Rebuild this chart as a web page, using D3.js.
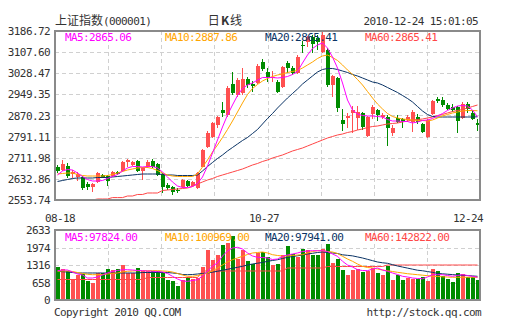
<!DOCTYPE html>
<html><head><meta charset="utf-8">
<script src="https://cdn.jsdelivr.net/npm/d3@7"></script>
<style>body{margin:0;background:#fff}svg{display:block}</style>
</head><body><svg id="c" width="505" height="330"></svg>
<script>
const open = [2677.3,2666.1,2681.1,2651.1,2639.9,2639.9,2613.7,2602.4,2621.2,2647.4,
 2643.6,2643.6,2658.6,2662.4,2696.1,2684.8,2699.8,2662.4,2677.3,2699.8,
 2688.6,2651.1,2609.9,2602.4,2591.2,2602.4,2624.9,2606.2,2598.7,2679.2,
 2752.3,2789.7,2834.7,2890.8,2872.1,2988.2,2947.0,2954.5,3006.9,2988.2,
 2992.0,3070.6,3033.2,3010.7,2995.7,2977.0,3066.9,3048.1,3029.4,3136.1,
 3145.5,3164.2,3160.5,3108.1,3115.6,2984.5,3010.7,2853.4,2859.0,2879.6,
 2862.7,2879.6,2793.5,2875.9,2890.8,2864.6,2864.6,2804.7,2860.9,2857.1,
 2853.4,2845.9,2864.6,2838.4,2789.7,2875.9,2932.0,2928.3,2909.6,2902.1,
 2902.1,2860.9,2913.3,2879.6,2842.1];
const high = [2684.8,2703.6,2692.3,2666.1,2658.6,2643.6,2621.2,2617.4,2658.6,2651.1,
 2647.4,2662.4,2662.4,2699.8,2707.3,2699.8,2703.6,2677.3,2703.6,2707.3,
 2692.3,2654.9,2617.4,2606.2,2598.7,2632.4,2628.7,2624.9,2658.6,2744.8,
 2812.2,2845.9,2868.4,2920.8,2980.7,3033.2,3010.7,3048.1,3014.4,2999.5,
 3063.1,3081.9,3048.1,3036.9,3003.2,3055.6,3074.4,3055.6,3096.8,3149.3,
 3168.0,3171.7,3171.7,3186.7,3123.0,3021.9,3014.4,2894.6,2879.6,2905.8,
 2905.8,2883.3,2868.4,2909.6,2894.6,2879.6,2872.1,2834.7,2872.1,2860.9,
 2872.1,2890.8,2875.9,2842.1,2857.1,2928.3,2939.5,2939.5,2917.1,2913.3,
 2905.8,2920.8,2920.8,2890.8,2857.1];
const low = [2654.9,2662.4,2636.1,2636.1,2624.9,2591.2,2591.2,2583.7,2617.4,2636.1,
 2606.2,2639.9,2647.4,2658.6,2677.3,2681.1,2658.6,2628.7,2673.6,2673.6,
 2643.6,2580.0,2591.2,2572.5,2580.0,2598.7,2602.4,2602.4,2594.9,2677.3,
 2748.5,2786.0,2823.4,2864.6,2864.6,2947.0,2939.5,2947.0,2973.2,2958.3,
 2988.2,3036.9,2995.7,2995.7,2954.5,2973.2,3029.4,3021.9,3025.7,3104.3,
 3126.8,3104.3,3115.6,3104.3,2977.0,2939.5,2883.3,2812.2,2823.4,2804.7,
 2815.9,2815.9,2789.7,2857.1,2849.6,2857.1,2756.0,2793.5,2842.1,2823.4,
 2845.9,2808.4,2838.4,2804.7,2786.0,2872.1,2917.1,2902.1,2890.8,2883.3,
 2804.7,2857.1,2879.6,2853.4,2812.2];
const close = [2662.4,2688.6,2643.6,2658.6,2651.1,2598.7,2602.4,2613.7,2654.9,2639.9,
 2624.9,2658.6,2651.1,2696.1,2701.7,2696.1,2662.4,2673.6,2696.1,2677.3,
 2647.4,2602.4,2598.7,2583.7,2587.5,2628.7,2606.2,2621.2,2654.9,2741.0,
 2804.7,2842.1,2864.6,2879.6,2973.2,2954.5,3003.2,3006.9,2984.5,2980.7,
 3055.6,3044.4,3014.4,3016.3,2958.3,3051.9,3048.1,3029.4,3089.3,3130.5,
 3164.2,3138.0,3145.5,3171.7,2984.5,3018.2,2898.3,2838.4,2870.2,2890.8,
 2885.2,2827.2,2864.6,2902.1,2872.1,2872.1,2823.4,2823.4,2847.7,2845.9,
 2864.6,2883.3,2845.9,2808.4,2853.4,2924.5,2924.5,2909.6,2894.6,2890.8,
 2849.6,2913.3,2894.6,2857.1,2836.5];
const ma5 = [2647.4,2662.4,2668.0,2666.1,2654.9,2641.8,2630.5,2624.9,2624.9,2626.8,
 2634.3,2641.8,2649.3,2662.4,2673.6,2679.2,2679.2,2677.3,2679.2,2679.2,
 2673.6,2658.6,2639.9,2621.2,2606.2,2600.6,2600.6,2604.3,2615.6,2639.9,
 2681.1,2729.8,2778.5,2827.2,2872.1,2909.6,2945.2,2971.4,2984.5,2992.0,
 3003.2,3012.6,3012.6,3012.6,3010.7,3012.6,3016.3,3023.8,3035.1,3066.9,
 3096.8,3121.1,3134.3,3141.8,3123.0,3089.3,3048.1,2992.0,2928.3,2890.8,
 2875.9,2870.2,2868.4,2868.4,2866.5,2864.6,2855.3,2849.6,2849.6,2847.7,
 2847.7,2842.1,2845.9,2851.5,2853.4,2859.0,2868.4,2877.7,2889.0,2898.3,
 2905.8,2907.7,2905.8,2890.8,2865.06];
const ma10 = [2651.1,2653.0,2654.9,2654.9,2649.3,2645.5,2643.6,2643.6,2643.6,2643.6,
 2645.5,2649.3,2654.9,2660.5,2666.1,2669.9,2673.6,2675.5,2675.5,2671.7,
 2664.2,2654.9,2647.4,2643.6,2641.8,2641.8,2641.8,2641.8,2651.1,2677.3,
 2703.6,2733.5,2759.7,2787.8,2817.8,2849.6,2883.3,2917.1,2948.9,2971.4,
 2986.4,2999.5,3008.8,3016.3,3021.9,3025.7,3031.3,3035.1,3038.8,3048.1,
 3059.4,3070.6,3083.7,3093.1,3096.8,3087.5,3076.3,3059.4,3040.7,3023.8,
 3005.1,2984.5,2960.1,2935.8,2913.3,2894.6,2877.7,2866.5,2860.9,2857.1,
 2855.3,2853.4,2851.5,2851.5,2849.6,2853.4,2860.9,2868.4,2874.0,2879.6,
 2883.3,2887.1,2889.0,2889.0,2887.86];
const ma20 = [2623.0,2626.8,2630.5,2634.3,2636.1,2636.1,2636.1,2636.1,2638.0,2638.0,
 2638.0,2639.9,2641.8,2643.6,2645.5,2647.4,2649.3,2651.1,2651.1,2651.1,
 2651.1,2649.3,2647.4,2647.4,2645.5,2645.5,2645.5,2645.5,2647.4,2662.4,
 2679.2,2694.2,2709.2,2722.3,2737.3,2750.4,2763.5,2776.6,2787.8,2802.8,
 2817.8,2838.4,2859.0,2877.7,2898.3,2917.1,2935.8,2952.6,2969.5,2988.2,
 3003.2,3018.2,3033.2,3042.5,3046.3,3046.3,3042.5,3036.9,3031.3,3023.8,
 3018.2,3010.7,3003.2,2995.7,2992.0,2984.5,2975.1,2965.7,2956.4,2945.2,
 2933.9,2920.8,2903.9,2887.1,2874.0,2866.5,2864.6,2864.6,2864.6,2864.6,
 2864.6,2864.6,2864.6,2864.6,2865.41];
const ma60 = [2553.7,2553.7,2553.7,2553.7,2553.7,2553.7,2553.7,2553.7,2557.5,2557.5,
 2557.5,2562.8,2562.8,2562.8,2568.7,2568.7,2574.4,2574.4,2580.0,2580.0,
 2580.0,2589.3,2591.2,2593.1,2594.9,2596.8,2598.7,2604.3,2613.7,2621.2,
 2628.7,2634.3,2641.8,2647.4,2653.0,2658.6,2664.2,2669.9,2677.3,2684.8,
 2690.5,2698.0,2703.6,2711.1,2716.7,2722.3,2729.8,2737.3,2742.9,2748.5,
 2756.0,2763.5,2771.0,2778.5,2786.0,2791.6,2797.2,2800.9,2806.6,2810.3,
 2815.9,2819.7,2825.3,2829.0,2830.9,2834.7,2838.4,2840.3,2842.1,2845.9,
 2849.6,2853.4,2855.3,2857.1,2860.9,2864.6,2870.2,2874.0,2879.6,2885.2,
 2889.0,2892.7,2898.3,2903.9,2909.6];
const volume = [1241,1166,1090,790,952,978,727,651,1016,1016,
 1166,1128,1166,1316,1016,1016,1203,1090,1090,1090,
 1090,1053,752,727,539,752,865,790,827,1241,
 1880,1504,1692,2068,2143,2407,1541,1880,1466,1354,
 1754,1792,1604,1316,1354,1692,2031,1730,1604,1918,
 1880,1692,1692,1918,2106,1391,1541,1128,940,1128,
 1166,1053,1090,1203,1016,940,1279,752,940,752,
 827,790,790,865,715,1166,1090,903,790,677,
 1016,978,865,865,752];
const vma5 = [1102,1128,1128,1053,978,940,827,827,865,940,
 1016,1080,1110,1140,1140,1128,1110,1102,1091,1080,
 1072,1053,997,891,790,715,703,733,764,903,
 1080,1279,1392,1655,1843,1956,1982,1918,1768,1655,
 1606,1599,1580,1523,1542,1644,1693,1730,1768,1824,
 1843,1854,1854,1854,1824,1730,1644,1456,1316,1241,
 1140,1110,1102,1166,1204,1128,1080,1016,959,891,
 865,827,809,801,865,952,952,952,922,891,
 922,952,922,891,854];
const vma10 = [1080,1091,1091,1072,1034,997,967,952,952,959,
 978,997,1016,1053,1080,1091,1102,1102,1102,1102,
 1102,1091,1080,1053,997,940,891,891,922,952,
 1016,1091,1204,1316,1429,1516,1580,1644,1711,1768,
 1787,1805,1768,1704,1674,1655,1655,1674,1693,1704,
 1768,1824,1854,1854,1824,1805,1749,1644,1542,1456,
 1354,1268,1222,1204,1166,1128,1102,1072,1042,1016,
 989,970,952,933,914,895,884,873,865,854,
 854,854,854,854,854];
const vma20 = [1080,1064,1053,1034,1016,1016,1016,1016,1016,1016,
 1016,1016,1016,1016,1016,1016,1016,1034,1034,1034,
 1034,1034,1034,1016,997,959,952,959,978,997,
 1016,1046,1080,1117,1155,1192,1230,1268,1316,1354,
 1384,1411,1456,1486,1516,1561,1606,1636,1663,1693,
 1730,1757,1787,1805,1787,1768,1749,1700,1680,1660,
 1620,1580,1530,1480,1430,1400,1380,1330,1280,1240,
 1200,1160,1120,1100,1070,1040,1000,985,970,955,
 940,930,918,905,891];
const vma60 = [771,771,771,771,771,771,771,771,771,771,
 771,771,771,771,771,771,771,771,846,846,
 846,846,846,846,846,846,846,846,846,1091,
 1091,1091,1091,1091,1091,1091,1091,1091,1091,1091,
 1091,1091,1091,1091,1091,1091,1204,1204,1204,1204,
 1204,1204,1204,1204,1260,1260,1260,1260,1260,1260,
 1260,1260,1260,1260,1260,1260,1316,1316,1316,1316,
 1316,1316,1316,1316,1316,1316,1316,1316,1316,1316,
 1316,1316,1316,1316,1316];
const priceTicks = [2553.74,2632.86,2711.98,2791.11,2870.23,2949.35,3028.47,3107.60,3186.72];
const volTicks = [0,658,1316,1974,2633];
const dateLabels = ['08-18','10-27','12-24'];
const dateLabelIdx = [0,42,84];
const maLabels = ['MA5:2865.06','MA10:2887.86','MA20:2865.41','MA60:2865.41'];
const volMaLabels = ['MA5:97824.00','MA10:100969.00','MA20:97941.00','MA60:142822.00'];
const titleName = '上证指数', titleCode = '(000001)', periodText = ['日','K','线'], timeText = '2010-12-24 15:01:05';
const copyLeft = 'Copyright 2010 QQ.COM', copyRight = 'http://stock.qq.com';

const maColors = ['#ff00ff','#ffa500','#0a3365','#ff4646'];
const upColor = '#ff5050', downColor = '#008c00';
const mono = '"DejaVu Sans Mono", monospace';
const cjk = '"Noto Sans CJK SC", sans-serif';

const svg = d3.select('#c');
const L = 55, R = 480, T = 31, B = 200, VT = 230, VB = 300;
const N = close.length;
const x = d3.scaleBand().domain(d3.range(N)).range([L, R]);
const y = d3.scaleLinear().domain([priceTicks[0], priceTicks[8]]).range([B, T]);
const yv = d3.scaleLinear().domain([0, 2633]).range([VB, VT]);
const gx = d3.scaleLinear().domain([0, 8]).range([L, R]);

svg.append('defs').call(d => {
  d.append('clipPath').attr('id','cp').append('rect').attr('x',L).attr('y',T-1).attr('width',R-L).attr('height',B-T+1);
  d.append('clipPath').attr('id','cv').append('rect').attr('x',L).attr('y',VT).attr('width',R-L).attr('height',VB-VT);
});

function grid(top, bottom, yScale, ticks) {
  const g = svg.append('g').attr('stroke','#d0d0d0').attr('stroke-dasharray','4,3').attr('shape-rendering','crispEdges');
  g.selectAll('.h').data(ticks.slice(1, -1)).join('line')
    .attr('x1', L).attr('x2', R).attr('y1', d => Math.round(yScale(d)) + 0.5).attr('y2', d => Math.round(yScale(d)) + 0.5);
  g.selectAll('.v').data(d3.range(1, 8)).join('line')
    .attr('y1', top).attr('y2', bottom).attr('x1', d => Math.round(gx(d)) + 0.5).attr('x2', d => Math.round(gx(d)) + 0.5);
}
grid(T, B, y, priceTicks);
grid(VT, VB, yv, volTicks);

const axP = svg.append('g').attr('transform', `translate(${L},0)`)
  .call(d3.axisLeft(y).tickValues(priceTicks).tickSize(0).tickPadding(5).tickFormat(d3.format('.2f')));
const axV = svg.append('g').attr('transform', `translate(${L},0)`)
  .call(d3.axisLeft(yv).tickValues(volTicks).tickSize(0).tickPadding(5).tickFormat(d3.format('d')));
[axP, axV].forEach(a => {
  a.select('.domain').remove();
  a.selectAll('text').attr('font-family', mono).attr('font-size', 11).attr('letter-spacing', '-0.6px').attr('fill', '#333');
});

const cg = svg.append('g').attr('clip-path','url(#cp)').attr('shape-rendering','crispEdges');
const idx = d3.range(N);
cg.selectAll('.w').data(idx).join('line')
  .attr('x1', i => x(i) + 2.5).attr('x2', i => x(i) + 2.5)
  .attr('y1', i => y(high[i])).attr('y2', i => y(low[i]))
  .attr('stroke', i => close[i] >= open[i] ? upColor : downColor);
cg.selectAll('.b').data(idx).join('rect')
  .attr('x', i => x(i) + 0.5).attr('width', 4)
  .attr('y', i => y(Math.max(open[i], close[i])))
  .attr('height', i => Math.max(1, Math.abs(y(open[i]) - y(close[i]))))
  .attr('fill', i => close[i] >= open[i] ? upColor : downColor);

const line = d3.line().x((d, i) => x(i) + 2.5).y(d => y(d));
const lg = svg.append('g').attr('clip-path','url(#cp)').attr('fill','none').attr('stroke-width',1);
[ma60, ma20, ma10, ma5].forEach((s, k) => {
  lg.append('path').datum(s).attr('d', line).attr('stroke', maColors[3 - k]);
});

const vg = svg.append('g').attr('clip-path','url(#cv)').attr('shape-rendering','crispEdges');
vg.selectAll('rect').data(idx).join('rect')
  .attr('x', i => x(i) + 0.5).attr('width', 4)
  .attr('y', i => yv(volume[i])).attr('height', i => VB - yv(volume[i]))
  .attr('fill', i => close[i] >= open[i] ? upColor : downColor);
const vline = d3.line().x((d, i) => x(i) + 2.5).y(d => yv(d));
const vlg = svg.append('g').attr('clip-path','url(#cv)').attr('fill','none').attr('stroke-width',1);
[vma60, vma20, vma10, vma5].forEach((s, k) => {
  vlg.append('path').datum(s).attr('d', vline).attr('stroke', maColors[3 - k]);
});

[[T, B], [VT, VB]].forEach(([t, b]) => {
  svg.append('rect').attr('x', L).attr('y', t).attr('width', R - L).attr('height', b - t)
    .attr('fill','none').attr('stroke','#8a8a8a').attr('stroke-width', 2);
});

maLabels.forEach((s, k) => svg.append('text').attr('x', 65 + 100 * k).attr('y', 41).text(s)
  .attr('font-family', mono).attr('font-size', 11).attr('letter-spacing','-0.6px').attr('fill', maColors[k]));
volMaLabels.forEach((s, k) => svg.append('text').attr('x', 65 + 100 * k).attr('y', 241).text(s)
  .attr('font-family', mono).attr('font-size', 11).attr('letter-spacing','-0.6px').attr('fill', maColors[k]));

const anchors = ['middle','middle','end'];
const offs = [5, -1, 8];
dateLabels.forEach((s, k) => svg.append('text').attr('x', x(dateLabelIdx[k]) + offs[k]).attr('y', 222)
  .attr('text-anchor', anchors[k]).text(s)
  .attr('font-family', mono).attr('font-size', 11).attr('letter-spacing','-0.6px').attr('fill', '#333'));

const t1 = svg.append('text').attr('x', 55).attr('y', 25).attr('fill', '#333');
t1.append('tspan').attr('font-family', cjk).attr('font-size', 12).text(titleName);
t1.append('tspan').attr('font-family', mono).attr('font-size', 11).attr('letter-spacing','-0.6px').text(titleCode);
const t2 = svg.append('text').attr('x', 225).attr('y', 25).attr('text-anchor','middle').attr('font-family', cjk)
  .attr('font-size', 12).attr('fill', '#333');
t2.append('tspan').text(periodText[0]);
t2.append('tspan').attr('font-weight','bold').attr('dx', 1).text(periodText[1]);
t2.append('tspan').attr('dx', 1).text(periodText[2]);
svg.append('text').attr('x', 478).attr('y', 25).attr('text-anchor','end').text(timeText)
  .attr('font-family', mono).attr('font-size', 11).attr('letter-spacing','-0.6px').attr('fill', '#333');
svg.append('text').attr('x', 54).attr('y', 316).text(copyLeft)
  .attr('font-family', mono).attr('font-size', 11).attr('letter-spacing','-0.6px').attr('fill', '#333');
svg.append('text').attr('x', 481).attr('y', 316).attr('text-anchor','end').text(copyRight)
  .attr('font-family', mono).attr('font-size', 11).attr('letter-spacing','-0.6px').attr('fill', '#333');
</script></body></html>
